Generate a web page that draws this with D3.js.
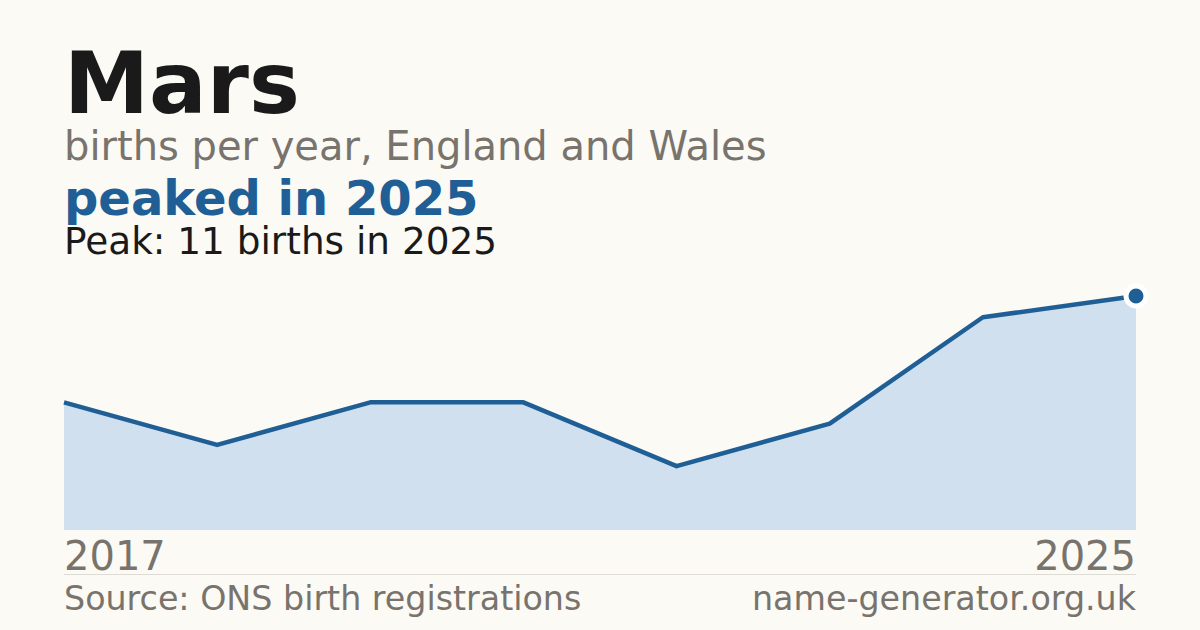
<!DOCTYPE html>
<html><head><meta charset="utf-8">
<script src="https://cdn.jsdelivr.net/npm/d3@7"></script>
<style>html,body{margin:0;padding:0;background:#fbfaf5;}svg{display:block;}</style>
</head><body>
<svg id="c" width="1200" height="630"></svg>
<script>
const years = [2017, 2018, 2019, 2020, 2021, 2022, 2023, 2025];
const births = [6, 4, 6, 6, 3, 5, 10, 11];
const axisLabels = ["2017", "2025"];
const title = "Mars";
const subtitle = "births per year, England and Wales";
const headline = "peaked in 2025";
const note = "Peak: 11 births in 2025";
const source = "Source: ONS birth registrations";
const site = "name-generator.org.uk";

const svg = d3.select("#c");
const font = "'DejaVu Sans', sans-serif";
const blue = "#1f5f96", grey = "#78736c";
svg.append("rect").attr("width",1200).attr("height",630).attr("fill","#fbfaf5");

const x = d3.scalePoint().domain(years).range([64, 1136]);
const y = d3.scaleLinear().domain([0, d3.max(births)]).range([530, 296]);
const data = years.map((yr,i)=>({yr, v: births[i]}));

svg.append("path").datum(data)
  .attr("d", d3.area().x(d=>x(d.yr)).y0(y(0)).y1(d=>y(d.v)))
  .attr("fill", "#d0e0ef");
svg.append("path").datum(data)
  .attr("d", d3.line().x(d=>x(d.yr)).y(d=>y(d.v)))
  .attr("fill","none").attr("stroke", blue).attr("stroke-width",4.5).attr("stroke-linejoin","round");
const last = data[data.length-1];
svg.append("circle").attr("cx", x(last.yr)).attr("cy", y(last.v)).attr("r",10)
  .attr("fill", blue).attr("stroke","#fff").attr("stroke-width",5);

const t = (txt, xx, yy, size, color, weight, anchor) => svg.append("text")
  .attr("x", xx).attr("y", yy).attr("font-family", font).attr("font-size", size)
  .attr("fill", color).attr("font-weight", weight||"normal").attr("text-anchor", anchor||"start").text(txt);

t(title, 64, 113, 85.5, "#1a1a1a", "bold");
t(subtitle, 64, 160, 40, grey);
t(headline, 64, 215, 48, blue, "bold");
t(note, 64, 254, 37.4, "#1a1a1a");
t(axisLabels[0], 64, 570, 40, grey);
t(axisLabels[1], 1136, 570, 40, grey, "normal", "end");
svg.append("line").attr("x1",64).attr("x2",1136).attr("y1",574.5).attr("y2",574.5)
  .attr("stroke","#dddbd4").attr("stroke-width",1);
t(source, 64, 610, 33.3, grey);
t(site, 1136, 610, 33.3, grey, "normal", "end");
</script>
</body></html>
